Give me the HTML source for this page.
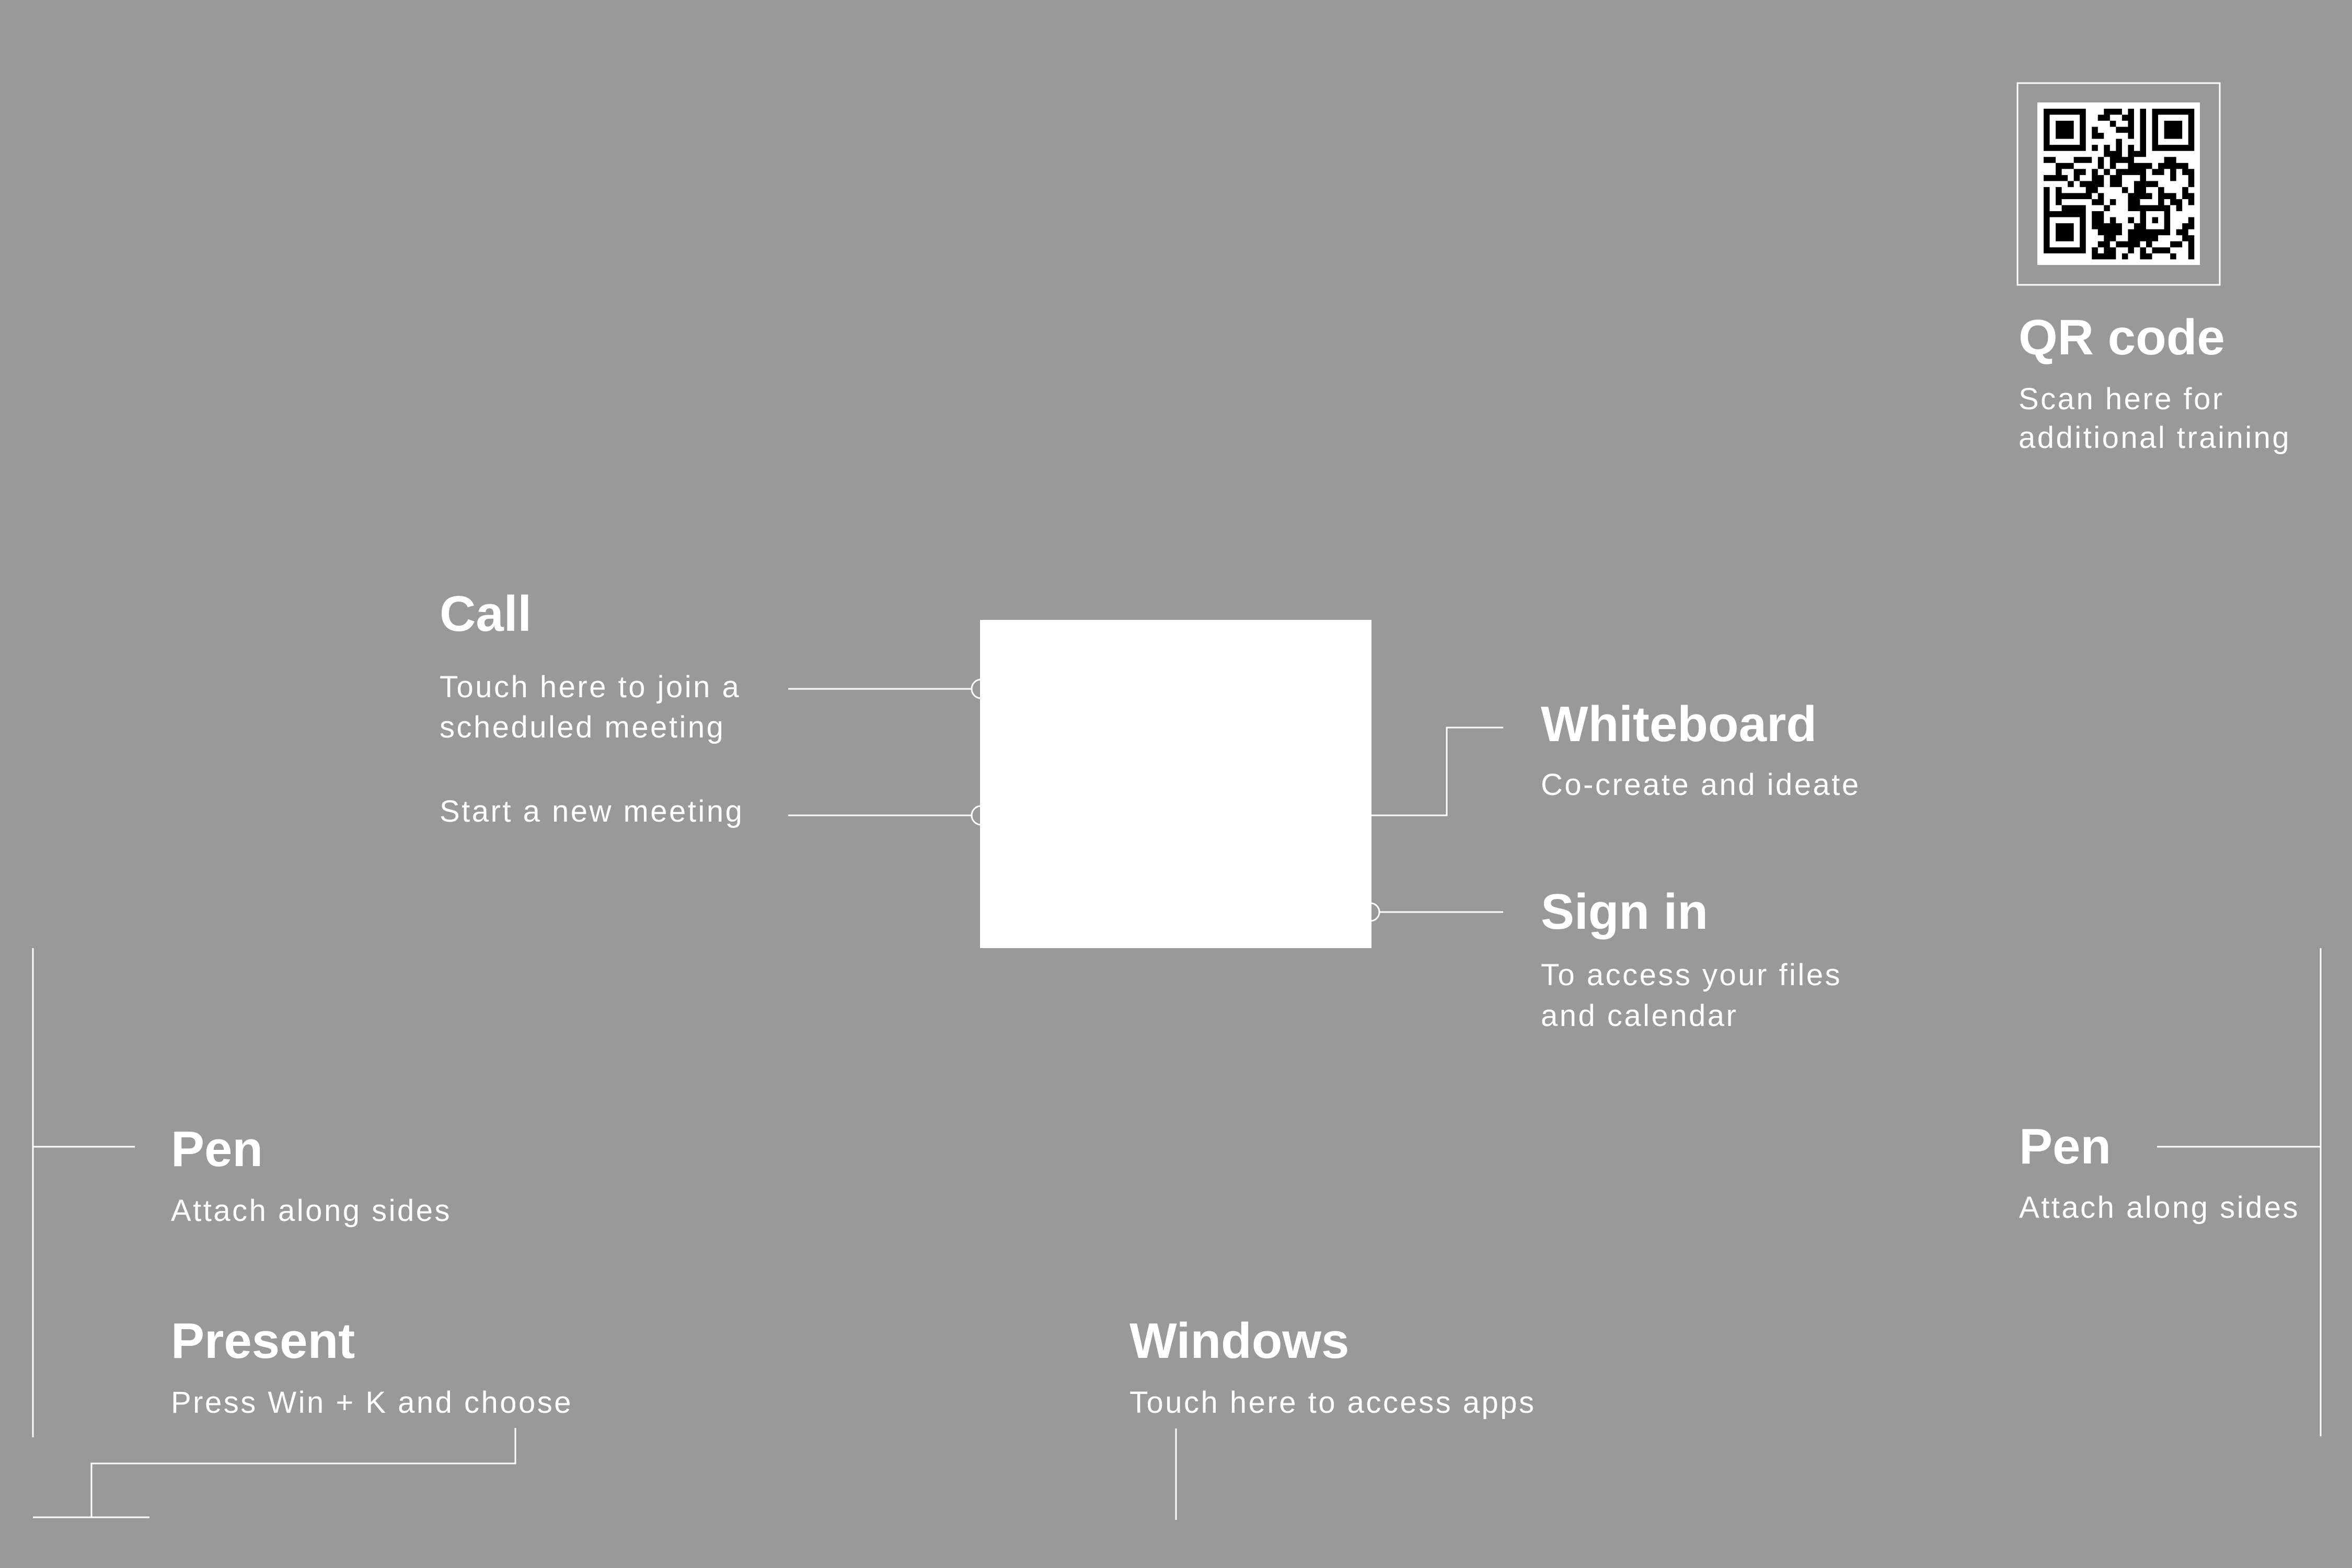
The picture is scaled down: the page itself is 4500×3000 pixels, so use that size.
<!DOCTYPE html>
<html><head><meta charset="utf-8"><style>
html,body{margin:0;padding:0;background:#999999;}
svg{display:block}
.t{font-family:"Liberation Sans",sans-serif;font-weight:bold;font-size:96px;fill:#fff}
.s{font-family:"Liberation Sans",sans-serif;font-size:58px;fill:#fff;letter-spacing:3.5px}
</style></head><body>
<svg width="4500" height="3000" viewBox="0 0 4500 3000" xmlns="http://www.w3.org/2000/svg">
<rect width="4500" height="3000" fill="#999999"/>
<g stroke="#fff" stroke-width="3" fill="none">
<!-- call connectors -->
<line x1="1508" y1="1318" x2="1875" y2="1318"/>
<line x1="1508" y1="1560" x2="1875" y2="1560"/>
<circle cx="1877" cy="1318" r="18" fill="#999"/>
<circle cx="1877" cy="1560" r="18" fill="#999"/>
<circle cx="2622" cy="1745" r="17" fill="#999"/>
<line x1="2639" y1="1745" x2="2876" y2="1745"/>
<polyline points="2624,1560 2768,1560 2768,1392 2876,1392"/>
<!-- left side -->
<line x1="63" y1="1814" x2="63" y2="2750"/>
<line x1="63" y1="2194" x2="258" y2="2194"/>
<polyline points="986,2732 986,2800 175,2800 175,2903"/>
<line x1="63" y1="2903" x2="286" y2="2903"/>
<!-- windows -->
<line x1="2250" y1="2733" x2="2250" y2="2908"/>
<!-- right side -->
<line x1="4440" y1="1814" x2="4440" y2="2748"/>
<line x1="4127" y1="2194" x2="4440" y2="2194"/>
<!-- qr border -->
<rect x="3860" y="159" width="387" height="386" stroke-width="3"/>
</g>
<rect x="1875" y="1186" width="749" height="628" fill="#fff"/>
<!-- QR -->
<rect x="3898" y="196" width="311" height="311" fill="#fff"/>
<g transform="translate(3910,208) scale(11.53)" fill="#000">
<path fill-rule="evenodd" d="M0 0h7v7h-7z M1 1v5h5v-5z M2 2h3v3h-3z M18 0h7v7h-7z M19 1v5h5v-5z M20 2h3v3h-3z M0 17h7v7h-7z M1 18v5h5v-5z M2 19h3v3h-3z"/>
<path d="M10 0h3v1h-3z M14 0h1v1h-1z M16 0h1v1h-1z
M9 1h2v1h-2z M13 1h2v1h-2z M16 1h1v1h-1z
M11 2h1v1h-1z M14 2h1v1h-1z M16 2h1v1h-1z
M8 3h1v1h-1z M12 3h3v1h-3z M16 3h1v1h-1z
M8 4h2v1h-2z M14 4h1v1h-1z M16 4h1v1h-1z
M12 5h1v1h-1z M16 5h1v1h-1z
M8 6h1v1h-1z M10 6h1v1h-1z M12 6h1v1h-1z M14 6h1v1h-1z M16 6h1v1h-1z
M10 7h3v1h-3z M14 7h3v1h-3z
M0 8h2v1h-2z M5 8h3v1h-3z M9 8h1v1h-1z M11 8h4v1h-4z M20 8h2v1h-2z
M2 9h3v1h-3z M9 9h1v1h-1z M11 9h1v1h-1z M14 9h4v1h-4z M19 9h5v1h-5z
M2 10h1v1h-1z M5 10h2v1h-2z M8 10h1v1h-1z M10 10h1v1h-1z M12 10h5v1h-5z M18 10h2v1h-2z M21 10h1v1h-1z M23 10h2v1h-2z
M0 11h4v1h-4z M5 11h1v1h-1z M8 11h2v1h-2z M11 11h2v1h-2z M16 11h1v1h-1z M21 11h1v1h-1z M24 11h1v1h-1z
M4 12h1v1h-1z M6 12h4v1h-4z M11 12h2v1h-2z M15 12h4v1h-4z M24 12h1v1h-1z
M0 13h1v1h-1z M2 13h1v1h-1z M7 13h2v1h-2z M13 13h1v1h-1z M15 13h2v1h-2z M19 13h1v1h-1z M23 13h1v1h-1z
M0 14h1v1h-1z M2 14h6v1h-6z M9 14h1v1h-1z M14 14h4v1h-4z M19 14h3v1h-3z M23 14h2v1h-2z
M0 15h1v1h-1z M2 15h1v1h-1z M8 15h2v1h-2z M11 15h1v1h-1z M14 15h2v1h-2z M19 15h1v1h-1z M21 15h2v1h-2z M24 15h1v1h-1z
M0 16h1v1h-1z M3 16h4v1h-4z M10 16h1v1h-1z M14 16h7v1h-7z M22 16h1v1h-1z
M8 17h2v1h-2z M16 17h1v1h-1z M20 17h1v1h-1z
M8 18h2v1h-2z M11 18h1v1h-1z M14 18h1v1h-1z M16 18h1v1h-1z M18 18h1v1h-1z M20 18h1v1h-1z M24 18h1v1h-1z
M8 19h5v1h-5z M15 19h2v1h-2z M20 19h1v1h-1z M23 19h2v1h-2z
M9 20h4v1h-4z M14 20h7v1h-7z M22 20h2v1h-2z
M10 21h2v1h-2z M14 21h5v1h-5z M23 21h2v1h-2z
M9 22h2v1h-2z M12 22h4v1h-4z M17 22h1v1h-1z M21 22h2v1h-2z M24 22h1v1h-1z
M8 23h1v1h-1z M10 23h2v1h-2z M14 23h1v1h-1z M16 23h1v1h-1z M18 23h3v1h-3z M24 23h1v1h-1z
M8 24h4v1h-4z M13 24h1v1h-1z M16 24h2v1h-2z M21 24h1v1h-1z M24 24h1v1h-1z"/>
</g>
<!-- text -->
<text class="t" x="3862" y="678">QR code</text>
<text class="s" x="3862" y="783">Scan here for</text>
<text class="s" x="3862" y="857">additional training</text>

<text class="t" x="841" y="1207">Call</text>
<text class="s" x="841" y="1334">Touch here to join a</text>
<text class="s" x="841" y="1411">scheduled meeting</text>
<text class="s" x="841" y="1572">Start a new meeting</text>

<text class="t" x="2948" y="1418">Whiteboard</text>
<text class="s" x="2948" y="1521">Co-create and ideate</text>

<text class="t" x="2948" y="1777">Sign in</text>
<text class="s" x="2948" y="1885">To access your files</text>
<text class="s" x="2948" y="1963">and calendar</text>

<text class="t" x="327" y="2231">Pen</text>
<text class="s" x="327" y="2336">Attach along sides</text>

<text class="t" x="3863" y="2226">Pen</text>
<text class="s" x="3863" y="2330">Attach along sides</text>

<text class="t" x="327" y="2598">Present</text>
<text class="s" x="327" y="2703">Press Win + K and choose</text>

<text class="t" x="2161" y="2598">Windows</text>
<text class="s" x="2161" y="2703">Touch here to access apps</text>
</svg>
</body></html>
